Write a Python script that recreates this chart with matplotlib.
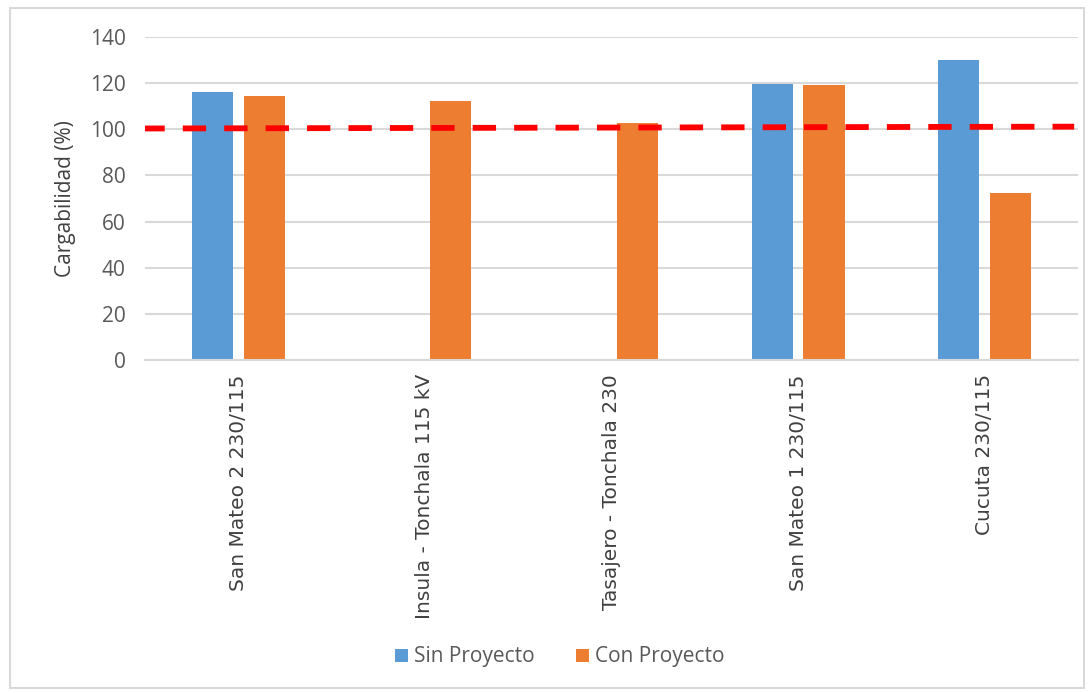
import matplotlib
matplotlib.use("Agg")
import matplotlib.pyplot as plt
import numpy as np
from matplotlib.patches import Rectangle

categories = ["San Mateo 2 230/115", "Insula - Tonchala 115 kV", "Tasajero - Tonchala 230",
              "San Mateo 1 230/115", "Cucuta 230/115"]
sin_proyecto = [116, np.nan, np.nan, 119.5, 130]
con_proyecto = [114.5, 112.3, 102.7, 119.3, 72.4]
limit_line = [100.3, 101.1]
yticks = [0, 20, 40, 60, 80, 100, 120, 140]

plt.rcParams['font.family'] = ['Open Sans', 'DejaVu Sans']

fig = plt.figure(figsize=(10.91, 6.93), dpi=100)
ax = fig.add_axes([0.133, 0.48, 0.855, 0.467])

x = np.arange(len(categories))
w = 0.22
off = 0.139
ax.bar(x - off, sin_proyecto, w, color="#5B9BD5", label="Sin Proyecto", zorder=2)
ax.bar(x + off, con_proyecto, w, color="#ED7D31", label="Con Proyecto", zorder=2)

ax.plot([-0.52, len(categories) - 0.52], limit_line, color="#FF0000", lw=4.2,
        dashes=(4.0, 3.1), zorder=3)

ax.set_xlim(-0.5, len(categories) - 0.5)
ax.set_ylim(0, 140)
ax.set_yticks(yticks)
ax.yaxis.grid(True, color="#D9D9D9", lw=1.5, zorder=0)
ax.set_axisbelow(True)
for s in ["top", "right", "left"]:
    ax.spines[s].set_visible(False)
ax.spines["bottom"].set_color("#D9D9D9")
ax.spines["bottom"].set_linewidth(1.5)
ax.tick_params(length=0, colors="#595959")
ax.tick_params(axis="y", labelsize=15, pad=14)
ax.set_xticks(x)
ax.set_xticklabels(categories, rotation=90, fontsize=14.5, family="DejaVu Sans", color="#404040")
ax.tick_params(axis="x", pad=10)
ax.set_ylabel("Cargabilidad (%)", fontsize=15, color="#404040", labelpad=10)

fig.legend(loc="center", bbox_to_anchor=(0.513, 0.052), ncol=2, frameon=False,
           fontsize=15, handlelength=0.6, handleheight=0.6, handletextpad=0.3,
           columnspacing=2.0, labelcolor="#595959")

fig.patches.append(Rectangle((0.009, 0.007), 0.985, 0.982, transform=fig.transFigure,
                             fill=False, edgecolor="#D9D9D9", lw=1.5))

fig.savefig("out.png", dpi=100)
